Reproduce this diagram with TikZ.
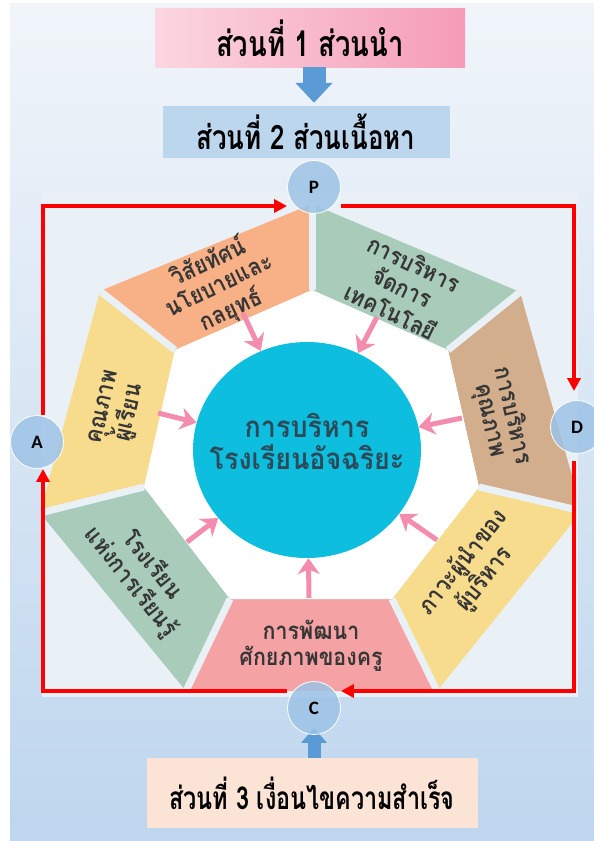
\documentclass[tikz,border=0pt]{standalone}
\usepackage{fontspec}
\setmainfont{Loma}[Script=Thai]
\newfontfamily\thaifont[Script=Thai]{Loma}
\newfontfamily\labfont{Carlito}
\usetikzlibrary{shapes.geometric,arrows.meta,calc}
\definecolor{bgtop}{HTML}{F1F5FA}
\definecolor{bgmid}{HTML}{D2E2F2}
\definecolor{bgbot}{HTML}{BED6EE}
\definecolor{panel}{HTML}{EAF1F6}
\definecolor{pinkA}{HTML}{FBD6E1}
\definecolor{pinkB}{HTML}{F59CB7}
\definecolor{boxblue}{HTML}{BCD6EE}
\definecolor{boxpeach}{HTML}{FBE4D6}
\definecolor{segorange}{HTML}{F8B186}
\definecolor{seggreen}{HTML}{A8CBBA}
\definecolor{segtan}{HTML}{D2AE8C}
\definecolor{segyellow}{HTML}{F8DC8D}
\definecolor{segpink}{HTML}{F5A2A4}
\definecolor{hubcyan}{HTML}{0EBEDE}
\definecolor{arrowpink}{HTML}{F48CB0}
\definecolor{blockblue}{HTML}{5B9BD5}
\definecolor{circblue}{HTML}{9DC3E6}
\definecolor{textdark}{HTML}{363636}
\definecolor{hubtext}{HTML}{2C4A5A}
\definecolor{framered}{HTML}{FF0000}
\newcommand{\tallseg}[1]{\scalebox{1}[1.12]{\begin{tabular}{@{}c@{}}#1\end{tabular}}}
\begin{document}
\begin{tikzpicture}[x=1bp,y=-1bp,
  headbox/.style={inner sep=0pt, text=black},
  segtext/.style={font=\thaifont\bfseries\fontsize{21.5}{20.5}\selectfont, text=textdark, inner sep=0pt},
  pkarrow/.style={draw=arrowpink, line width=5bp, -{Stealth[length=16bp,width=22bp,inset=5bp]}},
  redline/.style={draw=framered, line width=3.5bp},
  redtip/.style={-{Triangle[length=13bp,width=13bp]}},
  pdca/.style={circle, minimum size=53bp, inner sep=0pt, fill=circblue, fill opacity=0.85, text opacity=1, draw=white, line width=0.8bp, font=\labfont\bfseries\fontsize{19}{20}\selectfont},
  gapline/.style={draw=panel, line width=7bp},
  blockdown/.style={draw=blockblue, line width=23bp, -{Triangle[length=20bp,width=36bp]}, shorten >=3bp},
  blockup/.style={draw=blockblue, line width=13bp, -{Triangle[length=15bp,width=25bp]}, shorten >=-7bp}
]
\useasboundingbox (0,0) rectangle (594,841);
\fill[white] (0,0) rectangle (594,841);
\shade[top color=bgtop, middle color=bgmid, bottom color=bgbot] (10,3) rectangle (594,841);

% panel
\fill[panel] (42,192) rectangle (578,697);

% heptagon ring
\coordinate (O0) at (312,204);
\coordinate (O1) at (520,292);
\coordinate (O2) at (582,511);
\coordinate (O3) at (437,691);
\coordinate (O4) at (186,691);
\coordinate (O5) at (40,513);
\coordinate (O6) at (100,291);
\coordinate (I0) at (312,290);
\coordinate (I1) at (448,350);
\coordinate (I2) at (479,487);
\coordinate (I3) at (392,599);
\coordinate (I4) at (230,599);
\coordinate (I5) at (144,487);
\coordinate (I6) at (175,350);
\begin{scope}
\clip (42,192) rectangle (576,691);
\fill[seggreen]  (O0) -- (O1) -- (I1) -- (I0) -- cycle;
\fill[segtan]    (O1) -- (O2) -- (I2) -- (I1) -- cycle;
\fill[segyellow] (O2) -- (O3) -- (I3) -- (I2) -- cycle;
\fill[segpink]   (O3) -- (O4) -- (I4) -- (I3) -- cycle;
\fill[seggreen]  (O4) -- (O5) -- (I5) -- (I4) -- cycle;
\fill[segyellow] (O5) -- (O6) -- (I6) -- (I5) -- cycle;
\fill[segorange] (O6) -- (O0) -- (I0) -- (I6) -- cycle;
\fill[white] (I0) -- (I1) -- (I2) -- (I3) -- (I4) -- (I5) -- (I6) -- cycle;
\foreach \k in {0,...,6}{
  \draw[gapline] (I\k) -- ($(I\k)!1.3!(O\k)$);
}
\end{scope}

% hub
\node[ellipse, fill=hubcyan, minimum width=228bp, minimum height=216bp, inner sep=0pt] (hub) at (307,450) {};
\node[align=center, text=hubtext, inner sep=0pt, font=\thaifont\bfseries\fontsize{27}{29}\selectfont]
      (hubtxt) at (307,446) {\scalebox{1}[1.1]{\begin{tabular}{@{}c@{}}การบริหาร\\[-2bp]โรงเรียนอัจฉริยะ\end{tabular}}};

% segment texts
\node[segtext, rotate=-25.7] (sgT)  at (401,290) {\tallseg{การบริหาร\\จัดการ\\เทคโนโลยี}};
\node[segtext, rotate=-77.1] (sgR)  at (501,418) {\tallseg{การบริหาร\\คุณภาพ}};
\node[segtext, rotate=51.4]  (sgRL) at (474,571) {\tallseg{ภาวะผู้นำของ\\ผู้บริหาร}};
\node[segtext]               (sgB)  at (311,646) {\tallseg{การพัฒนา\\ศักยภาพของครู}};
\node[segtext, rotate=-51.4] (sgLL) at (141,574) {\tallseg{โรงเรียน\\แห่งการเรียนรู้}};
\node[segtext, rotate=77.1]  (sgL)  at (118,410) {\tallseg{คุณภาพ\\ผู้เรียน}};
\node[segtext, rotate=25.7]  (sgTL) at (220,287) {\tallseg{วิสัยทัศน์\\นโยบายและ\\กลยุทธ์}};

% pink arrows
\coordinate (aTL) at (243,313);
\coordinate (aT)  at (377,317);
\coordinate (aR)  at (462,418);
\coordinate (aRL) at (437,540);
\coordinate (aB)  at (309,598);
\coordinate (aLL) at (187,542);
\coordinate (aL)  at (158,413);
\foreach \a in {aTL,aT,aR,aRL,aB,aLL,aL}{
  \draw[pkarrow] (\a) -- (hub);
}

% PDCA circles (anchors)
\node[pdca, fill opacity=0, draw opacity=0] (P) at (314,187) {};
\node[pdca, fill opacity=0, draw opacity=0] (A) at (37,442) {};
\node[pdca, fill opacity=0, draw opacity=0] (D) at (577,427) {};
\node[pdca, fill opacity=0, draw opacity=0] (C) at (314,708) {};

% boxes
\node[headbox, minimum width=310bp, minimum height=58bp, left color=pinkA, right color=pinkB,
      font=\thaifont\bfseries\fontsize{27.5}{30}\selectfont] (b1) at (310,38) {\scalebox{1}[1.3]{ส่วนที่ 1 ส่วนนำ}};
\node[headbox, minimum width=287bp, minimum height=52bp, fill=boxblue,
      font=\thaifont\bfseries\fontsize{26}{30}\selectfont] (b2) at (306,132) {\scalebox{1}[1.3]{ส่วนที่ 2 ส่วนเนื้อหา}};
\node[headbox, minimum width=331bp, minimum height=70bp, fill=boxpeach,
      font=\thaifont\bfseries\fontsize{23.5}{30}\selectfont] (b3) at (312,793) {\scalebox{1}[1.35]{ส่วนที่ 3 เงื่อนไขความสำเร็จ}};
\draw[blockdown] (P |- b1.south) -- (P |- b2.north);

% PDCA cycle
\coordinate (tl) at (43,206);
\coordinate (tr) at (574,206);
\coordinate (br) at (574,691);
\coordinate (bl) at (43,691);
\draw[redline, redtip] (bl |- A.north) -- (tl) -- (P.west |- tl);
\draw[redline, redtip, shorten >=9bp] (P.east |- tr) -- (tr) -- (tr |- D.north);
\draw[redline, redtip, shorten <=7bp] (tr |- D.south) -- (br) -- (C.east |- br);
\draw[redline, redtip] (C.west |- bl) -- (bl) -- (bl |- A.south);
\draw[blockup] (C |- b3.north) -- (C.south);
\node[pdca] (Pc) at (P) {P};
\node[pdca] (Ac) at (A) {A};
\node[pdca] (Dc) at (D) {D};
\node[pdca] (Cc) at (C) {C};
\end{tikzpicture}
\end{document}
